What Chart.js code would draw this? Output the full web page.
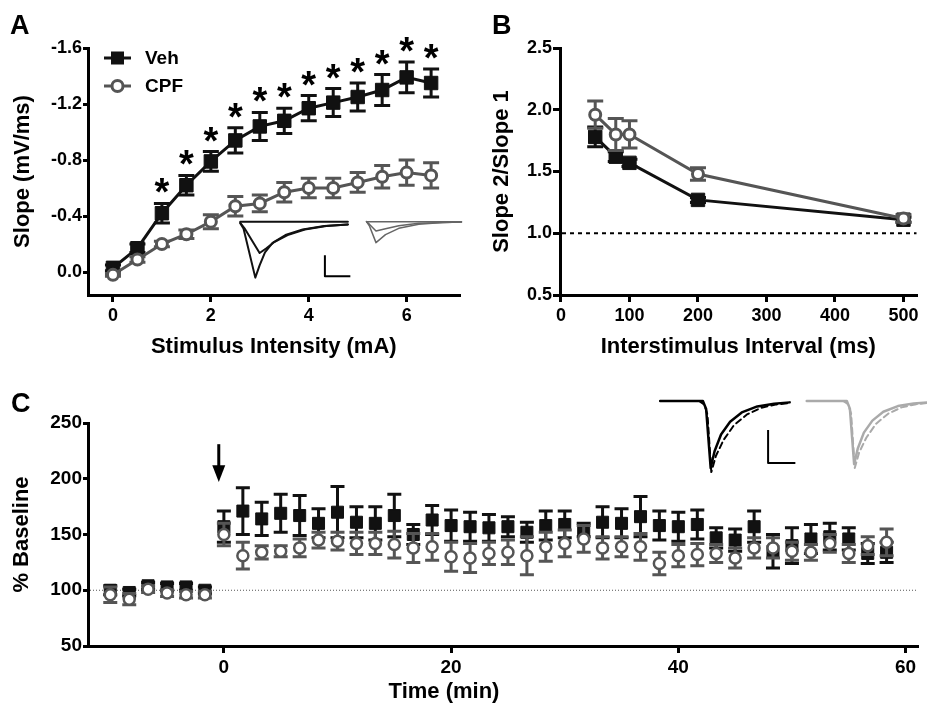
<!DOCTYPE html>
<html>
<head>
<meta charset="utf-8">
<script src="https://cdn.jsdelivr.net/npm/chart.js@4.4.1/dist/chart.umd.min.js"></script>
<style>
  body { margin: 0; background: #fff; width: 927px; height: 707px; overflow: hidden; position: relative; }
  canvas { position: absolute; }
</style>
</head>
<body>
<canvas id="chartA" width="470" height="365" style="left:0;top:0"></canvas>
<canvas id="chartB" width="462" height="365" style="left:465px;top:0"></canvas>
<canvas id="chartC" width="927" height="342" style="left:0;top:365px"></canvas>
<script>
const FONT = "'Liberation Sans', Arial, Helvetica, sans-serif";

// ---- Panel A: input/output curve ----
const stimIntensity = [0, 0.5, 1, 1.5, 2, 2.5, 3, 3.5, 4, 4.5, 5, 5.5, 6, 6.5];
const vehSlope = [-0.03, -0.17, -0.42, -0.62, -0.79, -0.94, -1.04, -1.08, -1.17, -1.21, -1.25, -1.30, -1.39, -1.35];
const vehSlopeErr = [0.02, 0.03, 0.07, 0.07, 0.07, 0.09, 0.1, 0.09, 0.09, 0.1, 0.1, 0.11, 0.11, 0.1];
const cpfSlope = [0.02, -0.09, -0.2, -0.27, -0.36, -0.47, -0.49, -0.57, -0.6, -0.6, -0.64, -0.68, -0.71, -0.69];
const cpfSlopeErr = [0.01, 0.02, 0.02, 0.03, 0.05, 0.07, 0.06, 0.07, 0.07, 0.07, 0.07, 0.08, 0.09, 0.09];
const slopeSignif = [false, false, true, true, true, true, true, true, true, true, true, true, true, true];
const slopeTicks = [-1.6, -1.2, -0.8, -0.4, 0];
const intensityTicks = [0, 2, 4, 6];

// ---- Panel B: paired-pulse ratio ----
const isiMs = [50, 80, 100, 200, 500];
const vehPPR = [1.78, 1.62, 1.57, 1.27, 1.11];
const vehPPRErr = [0.08, 0.04, 0.03, 0.02, 0.02];
const cpfPPR = [1.96, 1.80, 1.80, 1.48, 1.12];
const cpfPPRErr = [0.11, 0.13, 0.11, 0.05, 0.03];
const pprTicks = [0.5, 1.0, 1.5, 2.0, 2.5];
const isiTicks = [0, 100, 200, 300, 400, 500];

// ---- Panel C: LTP time course ----
const timeMin = [-10, -8.33, -6.67, -5, -3.33, -1.67,
  0, 1.67, 3.33, 5, 6.67, 8.33, 10, 11.67, 13.33, 15,
  16.67, 18.33, 20, 21.67, 23.33, 25, 26.67, 28.33, 30, 31.67,
  33.33, 35, 36.67, 38.33, 40, 41.67, 43.33, 45, 46.67, 48.33,
  50, 51.67, 53.33, 55, 56.67, 58.33];
const vehLTP = [100, 98, 104, 103, 103, 100,
  157, 171, 164, 169, 167, 160, 170, 161, 160, 167,
  150, 163, 158, 157, 156, 157, 152, 158, 159, 154,
  161, 160, 166, 158, 157, 159, 147, 145, 157, 135,
  140, 146, 148, 146, 133, 134];
const vehLTPErr = [4, 3, 3, 3, 3, 3,
  14, 21, 15, 17, 18, 13, 23, 14, 15, 19,
  9, 13, 14, 13, 12, 9, 9, 13, 12, 6,
  14, 13, 18, 13, 13, 13, 9, 10, 14, 15,
  16, 13, 12, 10, 9, 9];
const cpfLTP = [96, 92, 101, 97.5, 96, 96,
  150, 131, 134, 135, 138, 145, 144, 142, 142, 141,
  138, 139, 130, 129, 133, 134, 131, 139, 142, 146,
  138, 139, 139, 124, 131, 132, 133, 129, 138, 138,
  135, 134, 142, 133, 140, 143];
const cpfLTPErr = [7, 5, 3, 3, 3, 3,
  10, 12, 6, 5, 8, 7, 8, 10, 10, 12,
  13, 12, 13, 13, 10, 11, 17, 13, 12, 12,
  10, 9, 12, 10, 10, 10, 8, 9, 9, 9,
  8, 7, 8, 8, 8, 12];
const baselineTicks = [50, 100, 150, 200, 250];
const timeTicks = [0, 20, 40, 60];

// example traces for the insets: [fraction of sweep, fraction of peak depth]
const traceA1 = [[0, 0.03], [0.03, 0.12], [0.14, 1], [0.18, 0.78], [0.23, 0.55], [0.3, 0.38], [0.42, 0.24], [0.58, 0.14], [0.78, 0.08], [1, 0.05]];
const traceA2 = [[0, 0.02], [0.04, 0.12], [0.18, 0.56], [0.24, 0.48], [0.32, 0.36], [0.44, 0.24], [0.6, 0.14], [0.8, 0.08], [1, 0.05]];
const traceA3 = [[0, 0], [1, 0]];
const traceG1 = [[0, 0], [0.03, 0.2], [0.1, 1], [0.2, 0.62], [0.34, 0.32], [0.55, 0.12], [0.8, 0.04], [1, 0.02]];
const traceG2 = [[0, 0], [0.03, 0.12], [0.1, 0.45], [0.2, 0.34], [0.34, 0.2], [0.55, 0.08], [1, 0.02]];
const traceCpre = [[0, 0], [0.33, 0], [0.355, 0.12], [0.39, 1], [0.42, 0.75], [0.47, 0.5], [0.54, 0.31], [0.63, 0.17], [0.75, 0.08], [0.88, 0.04], [1, 0.02]];
const traceCpost = [[0.3, 0], [0.34, 0.05], [0.365, 0.2], [0.395, 1.06], [0.43, 0.82], [0.49, 0.58], [0.57, 0.36], [0.67, 0.2], [0.78, 0.1], [0.9, 0.05], [1, 0.03]];

const pairs = (xs, ys) => xs.map((x, i) => ({ x, y: ys[i] }));

function vehSet(xs, ys, errs, line, r) {
  return {
    label: 'Veh', data: pairs(xs, ys), errors: errs, showLine: line,
    borderColor: '#111', backgroundColor: '#111', borderWidth: 3,
    pointStyle: 'rect', pointRadius: r, pointBorderWidth: 1,
    pointBackgroundColor: '#111', pointBorderColor: '#111', order: 2
  };
}
function cpfSet(xs, ys, errs, line, r, bw) {
  return {
    label: 'CPF', data: pairs(xs, ys), errors: errs, showLine: line,
    borderColor: '#555', backgroundColor: '#fff', borderWidth: 3,
    pointStyle: 'circle', pointRadius: r, pointBorderWidth: bw,
    pointBackgroundColor: '#fff', pointBorderColor: '#555', order: 1
  };
}

function axis(o) {
  return {
    type: 'linear', min: o.min, max: o.max, reverse: !!o.reverse,
    border: { color: '#000', width: 3 },
    grid: { drawOnChartArea: false, color: '#000', lineWidth: 3, tickLength: o.tickLen },
    ticks: {
      color: '#000', padding: o.pad,
      font: { family: FONT, size: o.tickSize, weight: 'bold' },
      callback: o.fmt || (v => String(v))
    },
    title: {
      display: !!o.title, text: o.title, color: '#000',
      font: { family: FONT, size: 22, weight: 'bold' },
      padding: o.titlePad
    },
    afterBuildTicks: s => { s.ticks = o.ticks.map(v => ({ value: v })); },
    afterFit: s => {
      if (s.isHorizontal()) s.height = o.size; else s.width = o.size;
      s.paddingLeft = s.paddingRight = s.paddingTop = s.paddingBottom = 0;
    }
  };
}

const errorBars = {
  id: 'errorBars',
  beforeDatasetDraw(chart, args, opts) {
    const ds = chart.data.datasets[args.index];
    if (!ds.errors) return;
    const ctx = chart.ctx, ys = chart.scales.y;
    ctx.save();
    ctx.strokeStyle = ds.borderColor;
    ctx.lineWidth = 3;
    args.meta.data.forEach((pt, i) => {
      const e = ds.errors[i], v = ds.data[i].y;
      const a = ys.getPixelForValue(v - e), b = ys.getPixelForValue(v + e);
      ctx.beginPath();
      ctx.moveTo(pt.x, a); ctx.lineTo(pt.x, b);
      ctx.moveTo(pt.x - opts.cap, a); ctx.lineTo(pt.x + opts.cap, a);
      ctx.moveTo(pt.x - opts.cap, b); ctx.lineTo(pt.x + opts.cap, b);
      ctx.stroke();
    });
    ctx.restore();
  }
};

const refLine = {
  id: 'refLine',
  beforeDatasetsDraw(chart, args, opts) {
    if (opts.value === undefined) return;
    const { ctx, chartArea: ca } = chart;
    const py = chart.scales.y.getPixelForValue(opts.value);
    ctx.save();
    ctx.strokeStyle = opts.color; ctx.lineWidth = opts.width; ctx.setLineDash(opts.dash);
    ctx.beginPath(); ctx.moveTo(ca.left + 2, py); ctx.lineTo(opts.right || ca.right, py); ctx.stroke();
    ctx.restore();
  }
};

function panelLetter(letter, x, y) {
  return {
    id: 'letter' + letter,
    afterDraw(chart) {
      const ctx = chart.ctx;
      ctx.save();
      ctx.fillStyle = '#000';
      ctx.font = 'bold 27px ' + FONT;
      ctx.textBaseline = 'alphabetic';
      ctx.fillText(letter, x, y);
      ctx.restore();
    }
  };
}

function insets(def) {
  return {
    id: 'insets',
    afterDatasetsDraw(chart) {
      const { ctx, scales: { x, y } } = chart;
      ctx.save();
      ctx.lineJoin = 'round';
      ctx.lineCap = 'round';
      def.traces.forEach(t => {
        ctx.strokeStyle = t.color; ctx.lineWidth = t.width; ctx.setLineDash(t.dash || []);
        ctx.beginPath();
        t.pts.forEach(([f, d], i) => {
          const px = x.getPixelForValue(t.x0 + f * (t.x1 - t.x0));
          const py = y.getPixelForValue(t.base + d * (t.peak - t.base));
          if (i) ctx.lineTo(px, py); else ctx.moveTo(px, py);
        });
        ctx.stroke();
      });
      ctx.setLineDash([]);
      ctx.lineCap = 'butt';
      def.bars.forEach(b => {
        ctx.strokeStyle = '#000'; ctx.lineWidth = 2;
        ctx.beginPath();
        ctx.moveTo(x.getPixelForValue(b.x), y.getPixelForValue(b.yTop));
        ctx.lineTo(x.getPixelForValue(b.x), y.getPixelForValue(b.yBottom));
        ctx.lineTo(x.getPixelForValue(b.xEnd), y.getPixelForValue(b.yBottom));
        ctx.stroke();
      });
      ctx.restore();
    }
  };
}

const baseOptions = (pad, scales, plugins) => ({
  responsive: false, animation: false,
  layout: { padding: pad },
  plugins: Object.assign({ legend: { display: false }, tooltip: { enabled: false } }, plugins),
  scales
});

// ---------- Chart A ----------
const starsLegend = {
  id: 'starsLegend',
  afterDatasetsDraw(chart) {
    const { ctx, scales: { x, y } } = chart;
    ctx.save();
    ctx.fillStyle = '#000';
    ctx.textAlign = 'center';
    ctx.textBaseline = 'alphabetic';
    ctx.font = 'bold 38px ' + FONT;
    stimIntensity.forEach((s, i) => {
      if (!slopeSignif[i]) return;
      const top = y.getPixelForValue(vehSlope[i] - vehSlopeErr[i]);
      ctx.fillText('*', x.getPixelForValue(s), top + 2);
    });
    // legend
    const rows = [{ label: 'Veh', y: 58 }, { label: 'CPF', y: 86 }];
    rows.forEach((r, i) => {
      const ds = chart.data.datasets[i];
      ctx.strokeStyle = ds.borderColor; ctx.lineWidth = 3;
      ctx.beginPath(); ctx.moveTo(104, r.y); ctx.lineTo(131, r.y); ctx.stroke();
      if (ds.pointStyle === 'rect') {
        ctx.fillStyle = ds.pointBackgroundColor; ctx.fillRect(111, r.y - 6.5, 13, 13);
      } else {
        ctx.beginPath(); ctx.arc(117.5, r.y, 5.5, 0, Math.PI * 2);
        ctx.fillStyle = '#fff'; ctx.fill(); ctx.stroke();
      }
      ctx.fillStyle = '#000';
      ctx.textAlign = 'left'; ctx.textBaseline = 'middle';
      ctx.font = 'bold 19px ' + FONT;
      ctx.fillText(ds.label, 145, r.y + 1);
    });
    ctx.restore();
  }
};

new Chart(document.getElementById('chartA'), {
  type: 'scatter',
  data: { datasets: [
    vehSet(stimIntensity, vehSlope, vehSlopeErr, true, 9.5),
    cpfSet(stimIntensity, cpfSlope, cpfSlopeErr, true, 5.5, 3)
  ] },
  options: baseOptions({ top: 48, right: 10, left: 0, bottom: 0 }, {
    x: axis({ min: -0.51, max: 7.08, ticks: intensityTicks, tickLen: 7, pad: 3, tickSize: 18, size: 70,
      title: 'Stimulus Intensity (mA)', titlePad: { top: 0, bottom: 5 } }),
    y: axis({ min: -1.6, max: 0.164, reverse: true, ticks: slopeTicks, tickLen: 5, pad: 1, tickSize: 18, size: 88,
      title: 'Slope (mV/ms)', titlePad: { top: 10, bottom: 0 }, fmt: v => v.toFixed(1) })
  }, { errorBars: { cap: 8 } }),
  plugins: [errorBars, starsLegend, panelLetter('A', 10, 34), insets({
    traces: [
      { pts: traceA3, x0: 2.6, x1: 4.8, base: -0.36, peak: 0.04, color: '#111', width: 2 },
      { pts: traceA2, x0: 2.6, x1: 4.8, base: -0.36, peak: 0.04, color: '#111', width: 2 },
      { pts: traceA1, x0: 2.6, x1: 4.8, base: -0.36, peak: 0.04, color: '#111', width: 2 },
      { pts: traceA3, x0: 5.18, x1: 7.12, base: -0.36, peak: -0.21, color: '#666', width: 1.5 },
      { pts: traceG2, x0: 5.18, x1: 7.12, base: -0.36, peak: -0.21, color: '#666', width: 1.5 },
      { pts: traceG1, x0: 5.18, x1: 7.12, base: -0.36, peak: -0.21, color: '#666', width: 1.5 }
    ],
    bars: [{ x: 4.33, xEnd: 4.85, yTop: -0.12, yBottom: 0.03 }]
  })]
});

// ---------- Chart B ----------
new Chart(document.getElementById('chartB'), {
  type: 'scatter',
  data: { datasets: [
    vehSet(isiMs, vehPPR, vehPPRErr, true, 9.5),
    cpfSet(isiMs, cpfPPR, cpfPPRErr, true, 5.5, 3)
  ] },
  options: baseOptions({ top: 48, right: 0, left: 0, bottom: 0 }, {
    x: axis({ min: -1.4, max: 519, ticks: isiTicks, tickLen: 7, pad: 3, tickSize: 18, size: 70,
      title: 'Interstimulus Interval (ms)', titlePad: { top: 0, bottom: 5 } }),
    y: axis({ min: 0.5, max: 2.5, ticks: pprTicks, tickLen: 7, pad: 1, tickSize: 18, size: 95,
      title: 'Slope 2/Slope 1', titlePad: { top: 24, bottom: 0 }, fmt: v => v.toFixed(1) })
  }, { errorBars: { cap: 8 }, refLine: { value: 1.0, color: '#000', width: 2, dash: [4, 4] } }),
  plugins: [errorBars, refLine, panelLetter('B', 27, 34)]
});

// ---------- Chart C ----------
const arrowTitle = {
  id: 'arrowTitle',
  afterDraw(chart) {
    const { ctx, scales: { x, y } } = chart;
    const ax = x.getPixelForValue(-0.45);
    const y0 = y.getPixelForValue(231), y1 = y.getPixelForValue(212), tip = y.getPixelForValue(197);
    ctx.save();
    ctx.strokeStyle = '#000'; ctx.fillStyle = '#000'; ctx.lineWidth = 3;
    ctx.beginPath(); ctx.moveTo(ax, y0); ctx.lineTo(ax, y1 + 2); ctx.stroke();
    ctx.beginPath(); ctx.moveTo(ax - 6.5, y1); ctx.lineTo(ax + 6.5, y1); ctx.lineTo(ax, tip); ctx.closePath(); ctx.fill();
    ctx.font = 'bold 22px ' + FONT;
    ctx.textAlign = 'center'; ctx.textBaseline = 'middle';
    ctx.fillText('Time (min)', 444, 327);
    ctx.restore();
  }
};

new Chart(document.getElementById('chartC'), {
  type: 'scatter',
  data: { datasets: [
    vehSet(timeMin, vehLTP, vehLTPErr, false, 8.5),
    cpfSet(timeMin, cpfLTP, cpfLTPErr, false, 5.5, 2.5)
  ] },
  options: baseOptions({ top: 58, right: 9, left: 0, bottom: 0 }, {
    x: axis({ min: -11.96, max: 61.05, ticks: timeTicks, tickLen: 7, pad: 3, tickSize: 19, size: 61 }),
    y: axis({ min: 50, max: 250, ticks: baselineTicks, tickLen: 5, pad: 1, tickSize: 19, size: 88,
      title: '% Baseline', titlePad: { top: 9, bottom: 0 } })
  }, { errorBars: { cap: 7 }, refLine: { value: 100, color: '#555', width: 1, dash: [1, 2] } }),
  plugins: [errorBars, refLine, arrowTitle, panelLetter('C', 11, 47), insets({
    traces: [
      { pts: traceCpre, x0: 38.4, x1: 49.8, base: 269.7, peak: 209.6, color: '#000', width: 2.5 },
      { pts: traceCpost, x0: 38.4, x1: 49.8, base: 269.7, peak: 209.6, color: '#000', width: 2, dash: [6, 4] },
      { pts: traceCpre, x0: 51.3, x1: 62, base: 269.7, peak: 213, color: '#aaa', width: 2.5 },
      { pts: traceCpost, x0: 51.3, x1: 62, base: 269.7, peak: 213, color: '#aaa', width: 2, dash: [6, 4] }
    ],
    bars: [{ x: 47.9, xEnd: 50.3, yTop: 243.7, yBottom: 214.1 }]
  })]
});
</script>
</body>
</html>
